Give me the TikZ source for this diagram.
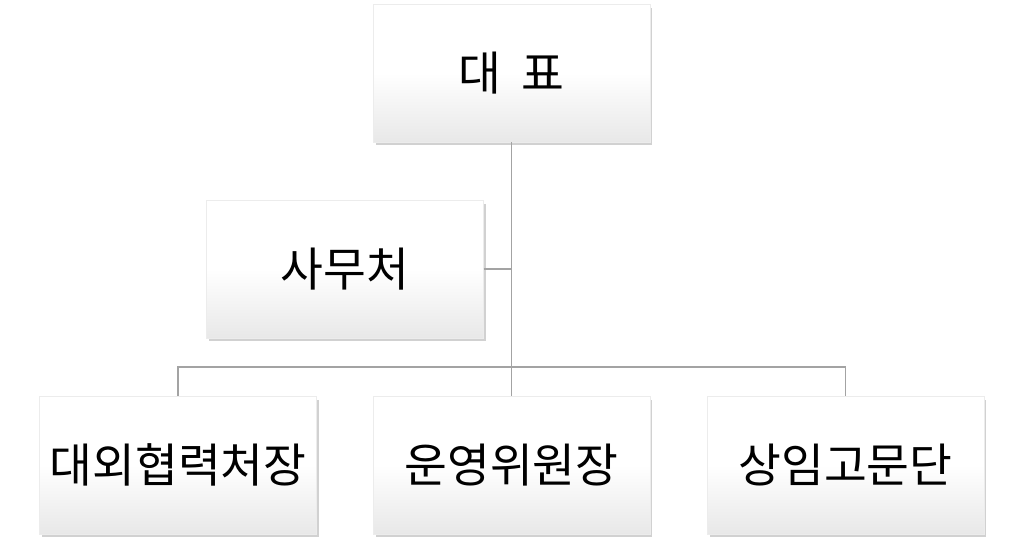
\documentclass[tikz,border=0pt]{standalone}
\usepackage{fontspec}
\setmainfont{Noto Sans CJK KR}
\usetikzlibrary{shadows}

\tikzset{
  orgbox/.style={rectangle, minimum width=5.54cm, minimum height=2.76cm,
    draw=gray!15, line width=0.3pt, top color=white, bottom color=gray!18,
    middle color=white, shading angle=0,
    drop shadow={shadow xshift=0.05cm, shadow yshift=-0.07cm, fill=gray!60, opacity=0.6},
    font=\fontsize{26.5}{31}\selectfont, inner sep=0pt},
  orgline/.style={draw=gray!80!black!60, line width=0.85pt}
}

\begin{document}
\begin{tikzpicture}[x=0.02cm, y=-0.02cm]
 			%%%	Area
 			\useasboundingbox (0,0) rectangle (1024,547);
 			%%%	Boxes
 			\node[orgbox] (ceo) at (511.5,73) {대\hspace{0.45em}표};
 			\node[orgbox] (office) at (345,269) {사무처};
 			\node[orgbox] (ext) at (178,465) {대외협력처장};
 			\node[orgbox] (ops) at (511.5,465) {운영위원장};
 			\node[orgbox] (adv) at (845.5,465) {상임고문단};
 			\coordinate (bus) at (511.5,367);
 			%%%	Lines
 			\draw[orgline] (ceo.south) -- (ops.north);
 			\draw[orgline] (office.east) -- (office.east -| ceo.south);
 			\draw[orgline] (ext.north) |- (bus) -| (adv.north);
\end{tikzpicture}
\end{document}
